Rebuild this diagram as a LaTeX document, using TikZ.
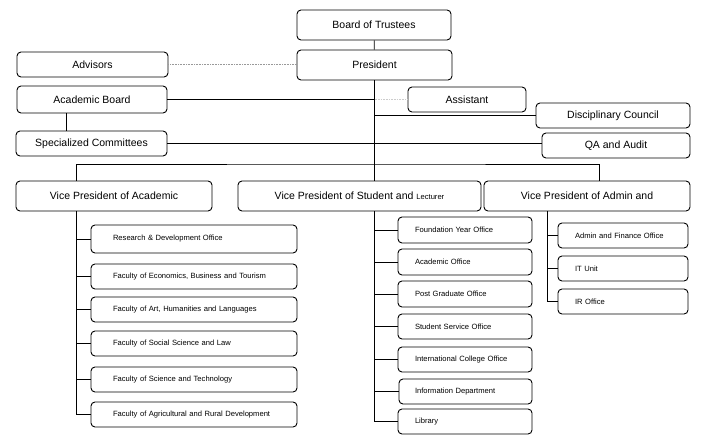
\documentclass[tikz,border=0pt]{standalone}
\usepackage{fontspec}
\setmainfont{Liberation Sans}

\tikzset{
  box/.style={draw, rounded corners=4pt, line width=0.9pt, inner sep=0pt, font=\fontsize{10.5}{12}\selectfont},
  unit/.style={draw, rounded corners=4pt, line width=0.9pt, inner ysep=0pt, align=left, font=\fontsize{7.6}{9}\selectfont},
  link/.style={dash pattern=on 1pt off 0.6pt, line width=1.1pt}
}

\begin{document}
\begin{tikzpicture}[x=1pt, y=-1pt, line width=0.7pt]
      \useasboundingbox (0,0) rectangle (720,444);

      \node[box, minimum width=154pt, minimum height=30pt] (board) at (374,25) {Board of Trustees};
      \node[box, minimum width=155pt, minimum height=30pt] (pres) at (374.5,65) {President};
      \node[box, minimum width=151pt, minimum height=25pt] (adv) at (92.5,64.5) {Advisors};
      \node[box, minimum width=150pt, minimum height=27pt] (acb) at (92,99.5) {Academic Board};
      \node[box, minimum width=151pt, minimum height=25pt] (spc) at (91.5,143.5) {Specialized Committees};
      \node[box, minimum width=118pt, minimum height=25pt] (asst) at (467,99.5) {Assistant};
      \node[box, minimum width=154pt, minimum height=25pt] (disc) at (613,115.5) {Disciplinary Council};
      \node[box, minimum width=148pt, minimum height=25pt] (qa) at (616,145.5) {QA and Audit};

      \node[box, minimum width=196pt, minimum height=30pt] (vpa) at (114,196) {Vice President of Academic};
      \node[box, minimum width=243pt, minimum height=30pt] (vps) at (359.5,196) {Vice President of Student and {\fontsize{7.6}{9}\selectfont Lecturer}};
      \node[box, minimum width=206pt, minimum height=30pt] (vpd) at (587,196) {Vice President of Admin and};

      \draw (board) -- (pres);
      \draw[link, gray!80] (adv.east) -- (adv.east -| pres.west);
      \draw (pres.south) -- (pres.south |- vps.north);
      \draw (acb.east) -- (acb.east -| pres.south);
      \draw[link, gray!40] (asst.west) -- (asst.west -| pres.south);
      \draw (disc.west) -- (disc.west -| pres.south);
      \draw (spc.east) -- (spc.east -| qa.west);
      \draw ([xshift=-26pt]acb.south) -- ([xshift=-26pt]acb.south |- spc.north);

      \coordinate (bus) at (374,164);
      \draw ([xshift=-38pt]vpa.north) |- (bus) -| ([xshift=12pt]vpd.north);

      %Academic
      \node[unit, inner xsep=22pt, text width=162pt, minimum height=28pt] (rd) at (194,239) {Research \& Development Office};
      \node[unit, inner xsep=22pt, text width=162pt, minimum height=25pt] (eco) at (194,276.5) {Faculty of Economics, Business and Tourism};
      \node[unit, inner xsep=22pt, text width=162pt, minimum height=25pt] (art) at (194,309.5) {Faculty of Art, Humanities and Languages};
      \node[unit, inner xsep=22pt, text width=162pt, minimum height=25pt] (soc) at (194,343.5) {Faculty of Social Science and Law};
      \node[unit, inner xsep=22pt, text width=162pt, minimum height=25pt] (sci) at (194,379.5) {Faculty of Science and Technology};
      \node[unit, inner xsep=22pt, text width=162pt, minimum height=25pt] (agr) at (194,414.5) {Faculty of Agricultural and Rural Development};

      \coordinate (aspine) at ([xshift=-38pt]vpa.south);
      \draw (aspine) |- (agr.west);
      \draw (rd.west) -- (rd.west -| aspine);
      \draw (eco.west) -- (eco.west -| aspine);
      \draw (art.west) -- (art.west -| aspine);
      \draw (soc.west) -- (soc.west -| aspine);
      \draw (sci.west) -- (sci.west -| aspine);

      %Student
      \node[unit, inner xsep=17pt, text width=100pt, minimum height=26pt] (fyo) at (465,230) {Foundation Year Office};
      \node[unit, inner xsep=17pt, text width=100pt, minimum height=26pt] (aco) at (465,262) {Academic Office};
      \node[unit, inner xsep=17pt, text width=100pt, minimum height=26pt] (pgo) at (465,294) {Post Graduate Office};
      \node[unit, inner xsep=17pt, text width=100pt, minimum height=25pt] (sso) at (465,326.5) {Student Service Office};
      \node[unit, inner xsep=17pt, text width=100pt, minimum height=25pt] (ico) at (465,359.5) {International College Office};
      \node[unit, inner xsep=16pt, text width=101pt, minimum height=25pt] (inf) at (465.5,391.5) {Information Department};
      \node[unit, inner xsep=17pt, text width=100pt, minimum height=25pt] (lib) at (465,421.5) {Library};

      \coordinate (sspine) at (vps.south -| pres.south);
      \draw (sspine) |- (lib.west);
      \draw (fyo.west) -- (fyo.west -| sspine);
      \draw (aco.west) -- (aco.west -| sspine);
      \draw (pgo.west) -- (pgo.west -| sspine);
      \draw (sso.west) -- (sso.west -| sspine);
      \draw (ico.west) -- (ico.west -| sspine);
      \draw (inf.west) -- (inf.west -| sspine);

      %Admin
      \node[unit, inner xsep=17pt, text width=96pt, minimum height=25pt] (afo) at (623,235.5) {Admin and Finance Office};
      \node[unit, inner xsep=17pt, text width=96pt, minimum height=25pt] (itu) at (623,268.5) {IT Unit};
      \node[unit, inner xsep=17pt, text width=96pt, minimum height=25pt] (iro) at (623,301.5) {IR Office};

      \coordinate (dspine) at ([xshift=-40pt]vpd.south);
      \draw (dspine) |- (iro.west);
      \draw (afo.west) -- (afo.west -| dspine);
      \draw (itu.west) -- (itu.west -| dspine);

    \end{tikzpicture}
\end{document}
